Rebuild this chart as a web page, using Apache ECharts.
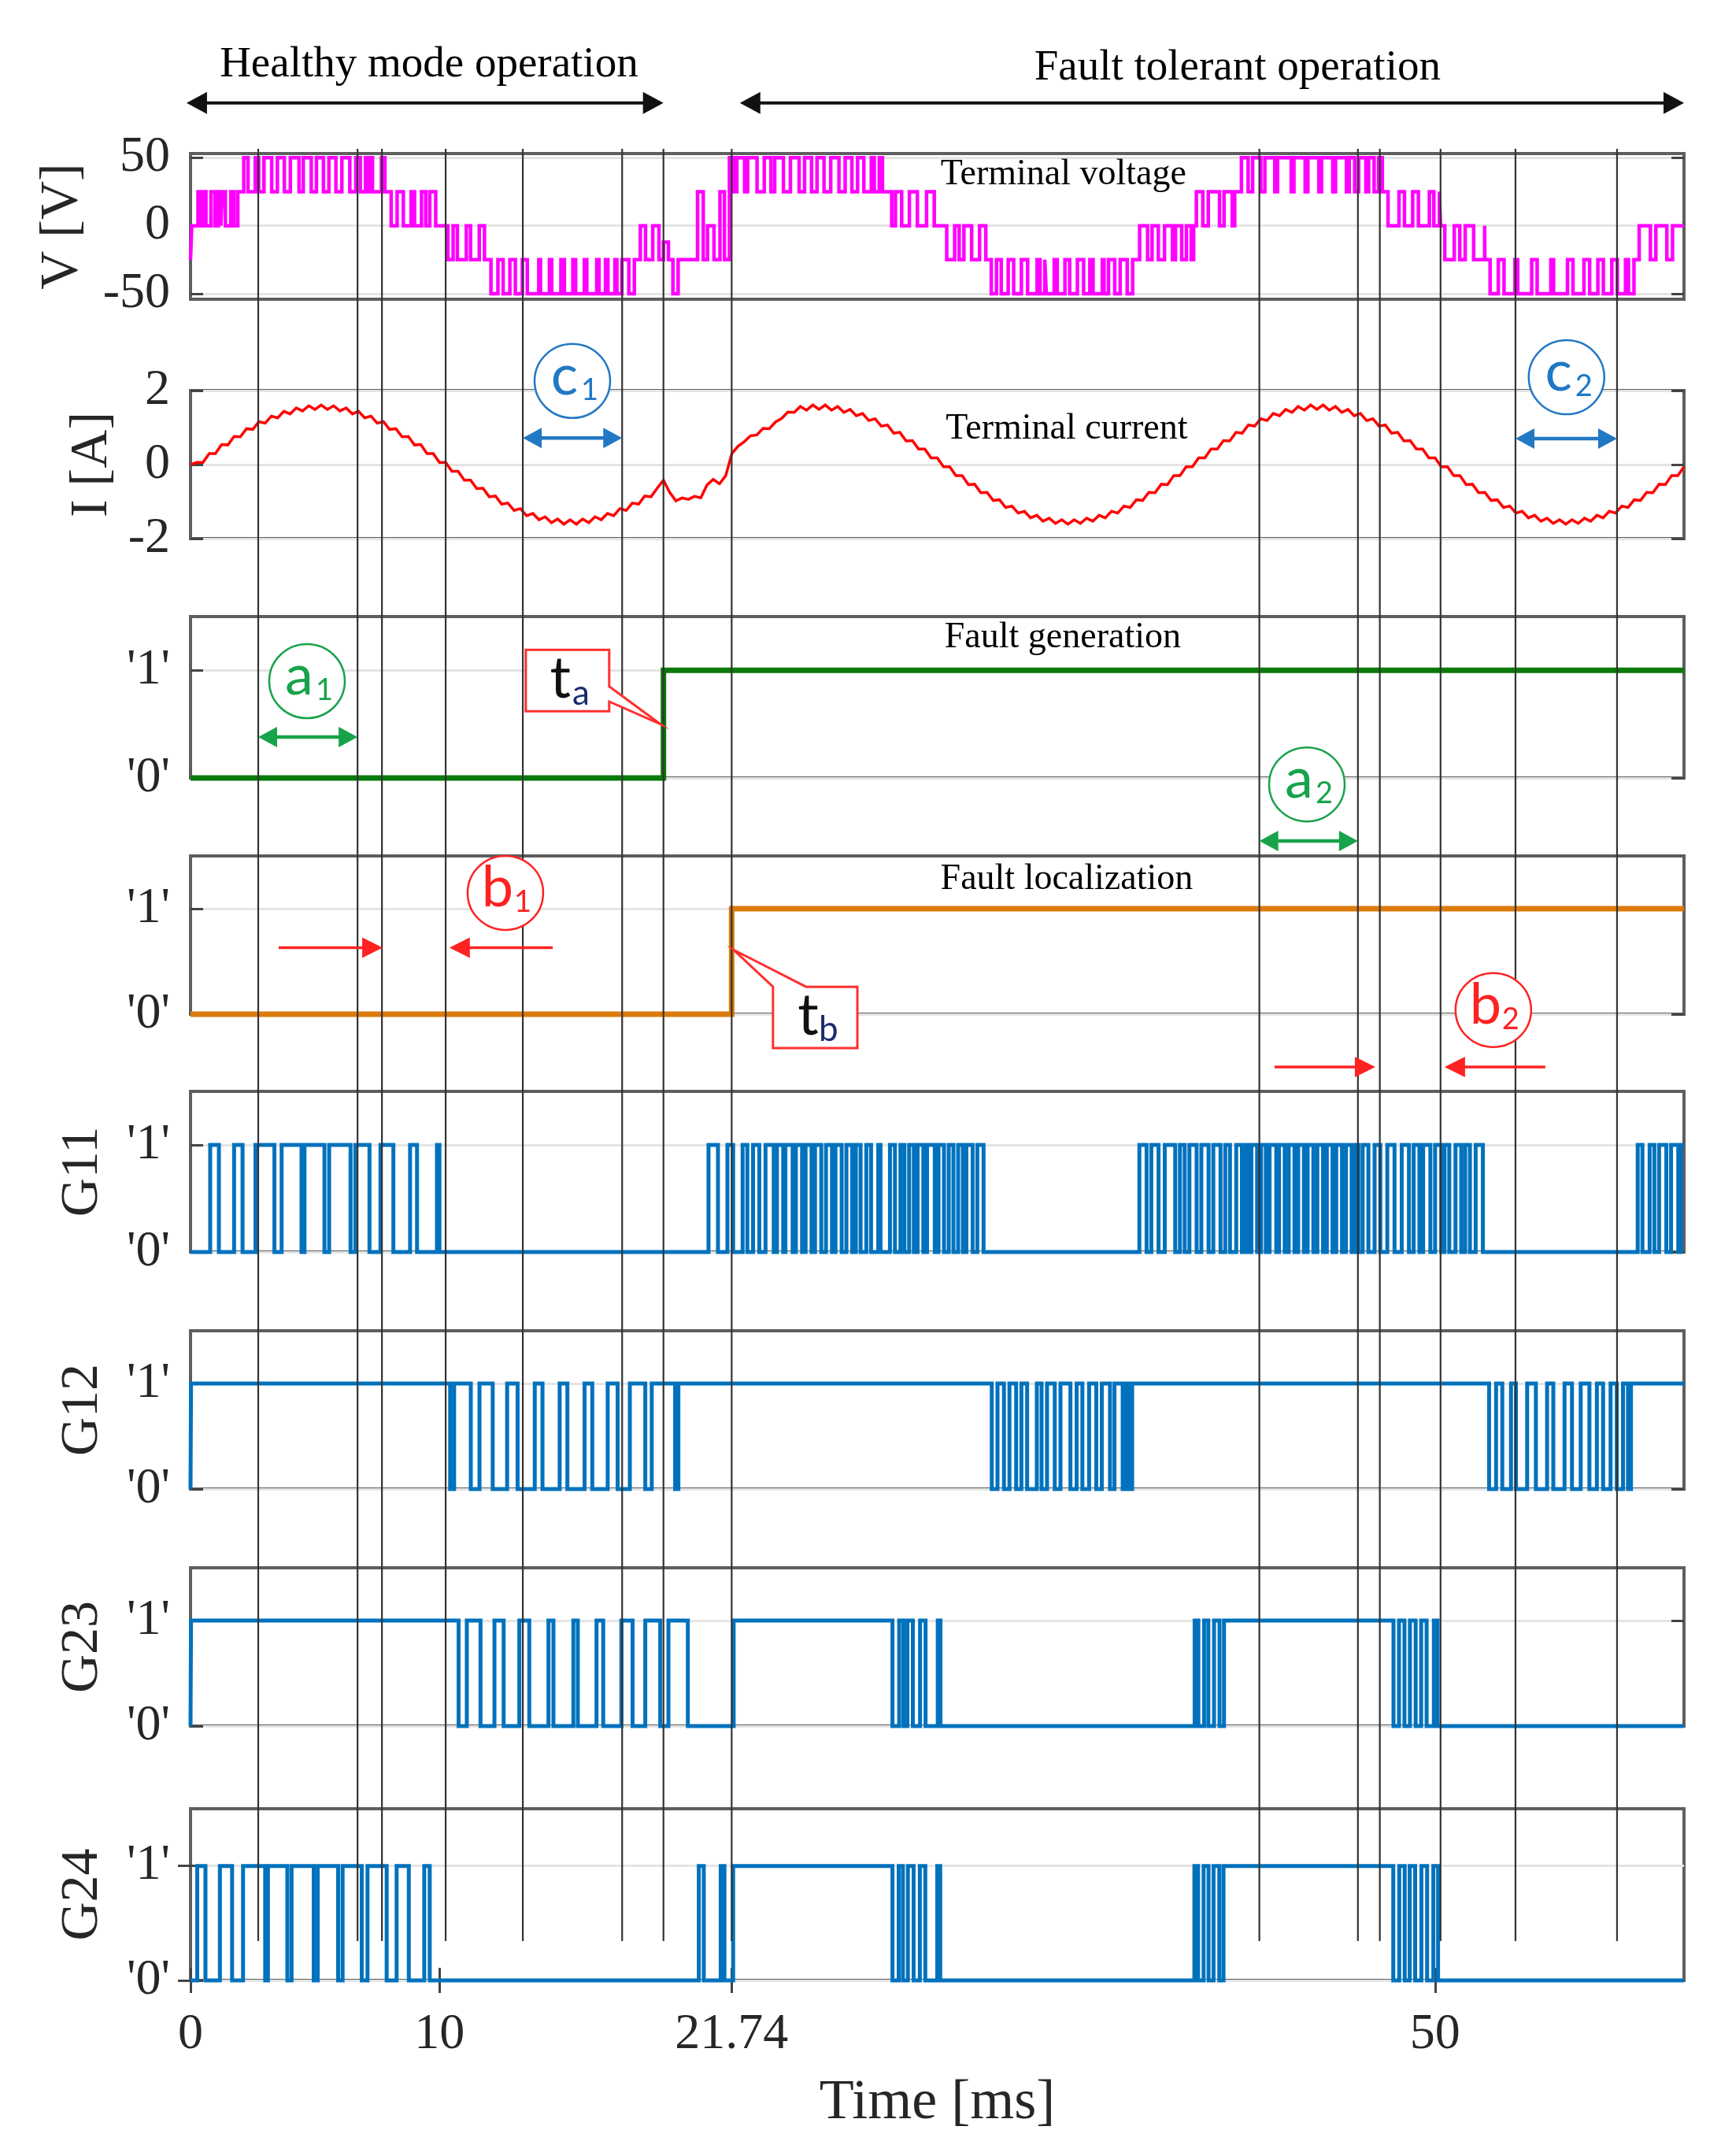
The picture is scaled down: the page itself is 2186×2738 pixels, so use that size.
<!DOCTYPE html>
<html>
<head>
<meta charset="utf-8">
<script src="https://cdn.jsdelivr.net/npm/echarts@6/dist/echarts.min.js"></script>
<style>
  html, body { margin: 0; padding: 0; background: #fff; }
  #chart { width: 2186px; height: 2738px; }
</style>
</head>
<body>
<div id="chart"></div>
<script>
// ---- data (time in ms) ----
var timeTicks = [0, 10, 21.74, 50];
var guideTimes = [2.72, 6.71, 7.69, 10.25, 13.35, 17.34, 19.0, 21.74, 42.94, 46.9, 47.78, 50.22, 53.23, 57.31];
var voltageTicks = [-50, 0, 50];
var currentTicks = [-2, 0, 2];
var logicTicks = [0, 1];

// terminal voltage: base level changes [t, V] and PWM pulses [start, end, V]
var voltageBase = [[0, -25], [0.05, 0], [1.9, 25], [10.15, 0], [10.34, -25], [21.83, 25], [30.07, 0], [31.95, -25],
    [40.3, 0], [41.95, 25], [50.22, 0], [52.0, -25]];
var voltagePulses = [
    [0.30, 0.42, 25], [0.52, 0.62, 25], [0.82, 0.98, 25], [1.12, 1.22, 25], [1.28, 1.40, 25], [1.62, 1.75, 25],
    [2.14, 2.31, 50], [2.60, 2.74, 50], [2.95, 3.26, 50], [3.49, 3.77, 50], [4.01, 4.36, 50], [4.53, 4.85, 50],
    [5.06, 5.34, 50], [5.56, 5.84, 50], [6.08, 6.40, 50], [6.64, 6.82, 50], [7.03, 7.12, 50], [7.24, 7.31, 50], [7.67, 7.81, 50],
    [8.06, 8.30, 0], [8.55, 8.86, 0], [9.00, 9.28, 0], [9.45, 9.61, 0], [9.85, 10.15, 0],
    [10.55, 10.72, 0], [11.08, 11.25, 0], [11.60, 11.81, 0],
    [12.07, 12.35, -50], [12.56, 12.83, -50], [13.05, 13.33, -50], [13.53, 13.99, -50], [14.06, 14.42, -50],
    [14.51, 14.88, -50], [15.02, 15.36, -50], [15.47, 15.82, -50], [15.92, 16.32, -50], [16.41, 16.67, -50],
    [16.77, 17.05, -50], [17.13, 17.33, -50], [17.61, 17.83, -50],
    [18.07, 18.28, 0], [18.57, 18.82, 0],
    [19.00, 19.20, -12], [19.38, 19.59, -50], [20.37, 20.60, 25], [20.77, 21.03, 0], [21.27, 21.45, 25], [21.65, 21.83, 50],
    [21.95, 22.26, 50], [22.38, 22.76, 50], [23.05, 23.32, 50], [23.47, 23.82, 50], [24.10, 24.45, 50], [24.67, 24.95, 50],
    [25.17, 25.45, 50], [25.72, 26.05, 50], [26.30, 26.57, 50], [26.80, 27.05, 50], [27.35, 27.47, 50], [27.67, 27.80, 50],
    [28.17, 28.32, 0], [28.57, 28.88, 0], [29.20, 29.57, 0], [29.88, 30.07, 0],
    [30.38, 30.70, -25], [30.88, 31.07, -25], [31.38, 31.70, -25],
    [32.17, 32.38, -50], [32.57, 32.85, -50], [33.07, 33.38, -50], [33.63, 34.01, -50], [34.13, 34.32, -50], [34.38, 34.70, -50],
    [34.82, 35.13, -50], [35.32, 35.63, -50], [35.88, 36.13, -50], [36.26, 36.63, -50], [36.70, 36.88, -50], [37.13, 37.35, -50],
    [37.63, 37.85, -50],
    [38.13, 38.45, 0], [38.63, 38.88, 0], [39.13, 39.45, 0], [39.57, 39.82, 0], [40.01, 40.20, 0],
    [40.41, 40.67, 25], [40.89, 41.34, 25], [41.52, 41.85, 25],
    [42.22, 42.49, 50], [42.67, 43.00, 50], [43.16, 43.56, 50], [43.67, 44.22, 50], [44.33, 44.78, 50], [44.89, 45.33, 50],
    [45.44, 45.89, 50], [46.00, 46.44, 50], [46.55, 46.77, 50], [46.93, 47.22, 50], [47.33, 47.55, 50], [47.73, 47.88, 50],
    [48.11, 48.55, 0], [48.77, 49.10, 0], [49.33, 49.77, 0], [49.95, 50.17, 0],
    [50.39, 50.77, -25], [50.99, 51.21, -25], [51.55, 51.99, -25],
    [52.21, 52.54, -50], [52.77, 53.21, -50], [53.32, 53.88, -50], [54.10, 54.65, -50], [54.76, 55.32, -50],
    [55.54, 55.98, -50], [56.21, 56.54, -50], [56.76, 57.10, -50], [57.32, 57.65, -50], [57.77, 57.99, -50],
    [58.20, 58.65, 0], [58.87, 59.31, 0], [59.54, 60.00, 0]
];

// terminal current, one sample every 0.25 ms
var currentStepMs = 0.25;
var currentValues = [
    0.00, 0.06, 0.06, 0.30, 0.30, 0.54, 0.53, 0.76, 0.75, 0.97, 0.95, 1.16, 1.12, 1.31, 1.26, 1.44,
    1.37, 1.53, 1.45, 1.59, 1.49, 1.61, 1.49, 1.59, 1.45, 1.53, 1.37, 1.44, 1.26, 1.31, 1.12, 1.16,
    0.95, 0.97, 0.75, 0.76, 0.53, 0.54, 0.30, 0.30, 0.06, 0.06, -0.18, -0.18, -0.42, -0.42, -0.65, -0.64,
    -0.87, -0.85, -1.07, -1.04, -1.24, -1.19, -1.38, -1.32, -1.49, -1.41, -1.57, -1.47, -1.61, -1.49, -1.61, -1.47,
    -1.57, -1.41, -1.49, -1.32, -1.38, -1.19, -1.24, -1.04, -1.07, -0.85, -0.87, -0.64, -0.42, -0.75, -0.98, -0.90,
    -0.94, -0.86, -0.90, -0.55, -0.40, -0.52, -0.30, 0.30, 0.50, 0.62, 0.78, 0.80, 0.98, 0.97, 1.15, 1.25,
    1.42, 1.41, 1.57, 1.47, 1.61, 1.49, 1.61, 1.47, 1.57, 1.41, 1.49, 1.32, 1.38, 1.19, 1.24, 1.04,
    1.07, 0.85, 0.87, 0.64, 0.65, 0.42, 0.42, 0.18, 0.18, -0.06, -0.06, -0.30, -0.30, -0.54, -0.53, -0.76,
    -0.75, -0.97, -0.95, -1.16, -1.12, -1.31, -1.26, -1.44, -1.37, -1.53, -1.45, -1.59, -1.49, -1.61, -1.49, -1.59,
    -1.45, -1.53, -1.37, -1.44, -1.26, -1.31, -1.12, -1.16, -0.95, -0.97, -0.75, -0.76, -0.53, -0.54, -0.30, -0.30,
    -0.06, -0.06, 0.18, 0.18, 0.42, 0.42, 0.65, 0.64, 0.87, 0.85, 1.07, 1.04, 1.24, 1.19, 1.38, 1.32,
    1.49, 1.41, 1.57, 1.47, 1.61, 1.49, 1.61, 1.47, 1.57, 1.41, 1.49, 1.32, 1.38, 1.19, 1.24, 1.04,
    1.07, 0.85, 0.87, 0.64, 0.65, 0.42, 0.42, 0.18, 0.18, -0.06, -0.06, -0.30, -0.30, -0.54, -0.53, -0.76,
    -0.75, -0.97, -0.95, -1.16, -1.12, -1.31, -1.26, -1.44, -1.37, -1.53, -1.45, -1.59, -1.49, -1.61, -1.49, -1.59,
    -1.45, -1.53, -1.37, -1.44, -1.26, -1.31, -1.12, -1.16, -0.95, -0.97, -0.75, -0.76, -0.53, -0.54, -0.30, -0.30,
    -0.06
];

var faultGeneration = [[0, 0], [19.0, 1]];
var faultLocalization = [[0, 0], [21.74, 1]];

// gate signals: intervals where the gate is '1' (G12: where it is '0')
var g11High = [
    [0.79, 1.14], [1.75, 2.09], [2.61, 3.37], [3.66, 4.46], [4.58, 5.38], [5.57, 6.43], [6.62, 7.19], [7.63, 8.15],
    [8.82, 9.10], [9.90, 10.0],
    [20.81, 21.19], [21.57, 21.80], [22.18, 22.37], [22.60, 22.85], [23.10, 23.43], [23.56, 23.81], [23.90, 24.19],
    [24.32, 24.57], [24.71, 24.95], [25.09, 25.34], [25.53, 25.77], [25.91, 26.16], [26.35, 26.58], [26.73, 26.92],
    [27.15, 27.34], [27.63, 27.72], [28.10, 28.30], [28.52, 28.68], [28.87, 29.06], [29.21, 29.44], [29.59, 29.90],
    [30.05, 30.27], [30.46, 30.65], [30.84, 31.03], [31.17, 31.42], [31.61, 31.86],
    [38.12, 38.41], [38.60, 38.89], [39.14, 39.56], [39.75, 39.94], [40.13, 40.42], [40.61, 40.90], [41.09, 41.38],
    [41.57, 41.76], [42.01, 42.24], [42.40, 42.55], [42.62, 42.85], [43.01, 43.20], [43.35, 43.62], [43.73, 43.96],
    [44.12, 44.35], [44.50, 44.73], [44.88, 45.11], [45.27, 45.50], [45.65, 45.88], [46.03, 46.26], [46.42, 46.65],
    [46.80, 46.92], [47.09, 47.32], [47.57, 47.80], [48.08, 48.37], [48.66, 48.95], [49.14, 49.37], [49.52, 49.81],
    [50.00, 50.25], [50.38, 50.57], [50.82, 51.05], [51.21, 51.40], [51.63, 51.92],
    [58.14, 58.33], [58.62, 58.81], [59.00, 59.29], [59.48, 59.77], [59.87, 60.0]
];
var g12Low = [
    [0, 0.02], [10.43, 10.59], [11.26, 11.61], [12.14, 12.72], [13.14, 13.83], [14.14, 14.83], [15.14, 15.83],
    [16.14, 16.76], [17.16, 17.65], [18.27, 18.53], [19.47, 19.60],
    [32.19, 32.42], [32.68, 32.90], [33.17, 33.38], [33.61, 34.00], [34.19, 34.41], [34.72, 34.95], [35.35, 35.60],
    [35.83, 36.10], [36.39, 36.61], [36.94, 37.12], [37.45, 37.55], [37.70, 37.83],
    [52.17, 52.45], [52.70, 53.05], [53.25, 53.70], [54.05, 54.50], [54.75, 55.20], [55.50, 55.85], [56.20, 56.50],
    [56.75, 57.05], [57.30, 57.55], [57.75, 57.87]
];
var g23High = [
    [0.02, 10.77], [11.10, 11.65], [12.21, 12.58], [13.21, 13.61], [14.38, 14.58], [15.38, 15.56], [16.31, 16.58],
    [17.31, 17.76], [18.27, 18.87], [19.20, 19.98],
    [21.82, 28.20], [28.47, 28.64], [28.80, 29.02], [29.31, 29.53], [30.02, 30.13],
    [40.34, 40.49], [40.72, 40.89], [41.12, 41.34], [41.52, 48.33], [48.55, 48.77], [48.99, 49.22], [49.44, 49.66],
    [49.95, 50.10]
];
var g24High = [
    [0.27, 0.60], [1.18, 1.67], [2.11, 3.00], [3.11, 3.89], [4.06, 4.95], [5.11, 5.93], [6.11, 6.88], [7.11, 7.88],
    [8.28, 8.77], [9.39, 9.61],
    [20.42, 20.62], [21.30, 21.45], [21.80, 28.20], [28.45, 28.62], [28.82, 29.05], [29.30, 29.52], [30.00, 30.12],
    [40.33, 40.48], [40.70, 40.90], [41.10, 41.33], [41.50, 48.32], [48.56, 48.78], [48.98, 49.20], [49.45, 49.68],
    [49.93, 50.12]
];

// ---- layout ----
var T_END = 60;
var PLOT_LEFT = 242;
var PLOT_WIDTH = 1897;
var SERIF = 'Liberation Serif';
var SANS = 'Lato';
var TEXT = '#262626';

var panels = [
    { top: 195, height: 185, min: -54, max: 53, ticks: voltageTicks, name: 'V [V]', gap: 129 },
    { top: 496, height: 188, min: -2, max: 2, ticks: currentTicks, name: 'I [A]', gap: 91 },
    { top: 783, height: 205, min: 0, max: 1.5, ticks: logicTicks, logic: true },
    { top: 1087, height: 201, min: 0, max: 1.5, ticks: logicTicks, logic: true },
    { top: 1386, height: 204, min: 0, max: 1.5, ticks: logicTicks, logic: true, name: 'G11', gap: 103 },
    { top: 1690, height: 201, min: 0, max: 1.5, ticks: logicTicks, logic: true, name: 'G12', gap: 103 },
    { top: 1991, height: 201, min: 0, max: 1.5, ticks: logicTicks, logic: true, name: 'G23', gap: 103 },
    { top: 2297, height: 218, min: 0, max: 1.5, ticks: logicTicks, logic: true, name: 'G24', gap: 103 }
];

/**
 * Level of a switched signal at time t.
 */
function levelAt(t, base, pulses) {
    var v = base[0][1];
    for (var i = 0; i < base.length; i++) if (base[i][0] <= t) v = base[i][1];
    for (var j = 0; j < pulses.length; j++) if (t >= pulses[j][0] && t < pulses[j][1]) v = pulses[j][2];
    return v;
}

/**
 * Turn base levels + pulses into a step polyline.
 */
function buildSteps(base, pulses) {
    var cuts = {};
    cuts[0] = true; cuts[T_END] = true;
    base.forEach(function (b) { cuts[b[0]] = true; });
    pulses.forEach(function (p) { cuts[p[0]] = true; cuts[Math.min(p[1], T_END)] = true; });
    var ts = Object.keys(cuts).map(Number).filter(function (t) { return t >= 0 && t <= T_END; })
        .sort(function (a, b) { return a - b; });
    var pts = [];
    for (var i = 0; i < ts.length - 1; i++) {
        var v = levelAt((ts[i] + ts[i + 1]) / 2, base, pulses);
        pts.push([ts[i], v], [ts[i + 1], v]);
    }
    return pts;
}

function withLevel(list, level) {
    return list.map(function (p) { return [p[0], p[1], level]; });
}

var voltageData = buildSteps(voltageBase, voltagePulses);
var currentData = currentValues.map(function (v, i) { return [i * currentStepMs, v]; });
var faultGenData = buildSteps(faultGeneration, []);
var faultLocData = buildSteps(faultLocalization, []);
var g11Data = buildSteps([[0, 0]], withLevel(g11High, 1));
var g12Data = buildSteps([[0, 1]], withLevel(g12Low, 0));
var g23Data = buildSteps([[0, 0]], withLevel(g23High, 1));
var g24Data = buildSteps([[0, 0]], withLevel(g24High, 1));

var grids = panels.map(function (p) {
    return { left: PLOT_LEFT, width: PLOT_WIDTH, top: p.top, height: p.height, show: true,
        borderColor: '#5e5e5e', borderWidth: 4, backgroundColor: 'transparent' };
});
grids.push({ left: PLOT_LEFT, width: PLOT_WIDTH, top: 189, height: 2276, show: false });

var xAxes = panels.map(function (p, i) {
    var last = i === panels.length - 1;
    return {
        type: 'value', gridIndex: i, min: 0, max: T_END, position: 'bottom',
        axisLine: { show: false },
        axisTick: { show: last, inside: true, length: 16, customValues: timeTicks, lineStyle: { color: '#444', width: 3 } },
        axisLabel: { show: last, customValues: timeTicks, margin: 37, fontSize: 64, fontFamily: SERIF, color: TEXT,
            formatter: function (v) { return String(v); } },
        splitLine: { show: false },
        name: last ? 'Time [ms]' : '', nameLocation: 'middle', nameGap: 120,
        nameTextStyle: { fontSize: 72, fontFamily: SERIF, color: TEXT }
    };
});
xAxes.push({ type: 'value', gridIndex: 8, min: 0, max: T_END, show: false });
xAxes.push({
    type: 'value', gridIndex: 7, min: 0, max: T_END, position: 'top',
    axisLine: { show: false }, axisLabel: { show: false }, splitLine: { show: false },
    axisTick: { show: true, inside: true, length: 16, customValues: timeTicks, lineStyle: { color: '#444', width: 3 } }
});

var yAxes = [];
panels.forEach(function (p, i) {
    var fmt = p.logic ? function (v) { return "'" + v + "'"; } : function (v) { return String(v); };
    yAxes.push({
        type: 'value', gridIndex: i, min: p.min, max: p.max, position: 'left',
        axisLine: { show: false },
        axisTick: { show: true, inside: true, length: 16, customValues: p.ticks, lineStyle: { color: '#444', width: 3 } },
        axisLabel: { customValues: p.ticks, margin: 26, fontSize: 64, fontFamily: SERIF, color: TEXT, formatter: fmt },
        splitLine: { show: true, lineStyle: { color: '#e4e4e4', width: 3 } },
        name: p.name || '', nameLocation: 'middle', nameRotate: 90, nameGap: p.gap || 0,
        nameTextStyle: { fontSize: 68, fontFamily: SERIF, color: TEXT }
    });
    yAxes.push({
        type: 'value', gridIndex: i, min: p.min, max: p.max, position: 'right',
        axisLine: { show: false }, axisLabel: { show: false }, splitLine: { show: false },
        axisTick: { show: true, inside: true, length: 16, customValues: p.ticks, lineStyle: { color: '#444', width: 3 } }
    });
});
yAxes.push({ type: 'value', gridIndex: 8, min: 0, max: 1, show: false });

function signal(panel, data, color, width) {
    return {
        type: 'line', xAxisIndex: panel, yAxisIndex: panel * 2, data: data,
        showSymbol: false, symbol: 'none', clip: false, silent: true, z: 3,
        lineStyle: { color: color, width: width, join: 'miter' }
    };
}

var GATE_BLUE = '#0072BD';
var series = [
    signal(0, voltageData, '#FF00FF', 4.5),
    signal(1, currentData, '#FF0000', 3.5),
    signal(2, faultGenData, '#0B7A0B', 7),
    signal(3, faultLocData, '#DB7B0B', 7),
    signal(4, g11Data, GATE_BLUE, 5),
    signal(5, g12Data, GATE_BLUE, 5),
    signal(6, g23Data, GATE_BLUE, 5),
    signal(7, g24Data, GATE_BLUE, 5),
    {
        type: 'custom', xAxisIndex: 8, yAxisIndex: 16, silent: true, z: 10, clip: false,
        data: guideTimes.map(function (t) { return [t, 0]; }),
        encode: { x: 0, y: 1 },
        renderItem: function (params, api) {
            var p0 = api.coord([api.value(0), 1]);
            var p1 = api.coord([api.value(0), 0]);
            return { type: 'line', shape: { x1: p0[0], y1: p0[1], x2: p1[0], y2: p1[1] },
                style: { stroke: '#333333', lineWidth: 2.2 } };
        }
    }
];

var option = {
    animation: false,
    backgroundColor: '#ffffff',
    grid: grids,
    xAxis: xAxes,
    yAxis: yAxes,
    series: series
};

var chart = echarts.init(document.getElementById('chart'));
chart.setOption(option);

// ---- annotations, placed through each panel's scales ----
function px(g, x, y) {
    return chart.convertToPixel({ xAxisIndex: g, yAxisIndex: g * 2 }, [x, y]);
}

var RED = '#FF2222', GREEN = '#18A34A', BLUE = '#2178C4';
var arrowSpecs = [
    { g: 0, from: [-0.16, 90.1], to: [19.0, 90.1], color: '#111', width: 4, head: [26, 14], both: true },
    { g: 0, from: [22.07, 90.1], to: [60, 90.1], color: '#111', width: 4, head: [26, 14], both: true },
    { g: 1, from: [13.35, 0.72], to: [17.34, 0.72], color: BLUE, width: 4.5, head: [24, 13], both: true },
    { g: 1, from: [53.23, 0.70], to: [57.31, 0.70], color: BLUE, width: 4.5, head: [24, 13], both: true },
    { g: 2, from: [2.72, 0.38], to: [6.71, 0.38], color: GREEN, width: 4.5, head: [24, 13], both: true },
    { g: 2, from: [42.94, -0.585], to: [46.9, -0.585], color: GREEN, width: 4.5, head: [24, 13], both: true },
    { g: 3, from: [3.54, 0.63], to: [7.72, 0.63], color: RED, width: 3.5, head: [26, 13], both: false },
    { g: 3, from: [14.55, 0.63], to: [10.40, 0.63], color: RED, width: 3.5, head: [26, 13], both: false },
    { g: 3, from: [43.55, -0.5], to: [47.6, -0.5], color: RED, width: 3.5, head: [26, 13], both: false },
    { g: 3, from: [54.43, -0.5], to: [50.38, -0.5], color: RED, width: 3.5, head: [26, 13], both: false }
];
var circleSpecs = [
    { g: 1, at: [15.34, 2.26], color: BLUE, main: 'c', sub: '1' },
    { g: 1, at: [55.28, 2.36], color: BLUE, main: 'c', sub: '2' },
    { g: 2, at: [4.68, 0.90], color: GREEN, main: 'a', sub: '1' },
    { g: 2, at: [44.85, -0.06], color: GREEN, main: 'a', sub: '2' },
    { g: 3, at: [12.65, 1.15], color: RED, main: 'b', sub: '1' },
    { g: 3, at: [52.34, 0.04], color: RED, main: 'b', sub: '2' }
];
var calloutSpecs = [
    { g: 2, box: [13.47, 16.82, 0.62, 1.19], side: 'right', w: [0.85, 0.71], tip: [18.88, 0.50], sub: 'a' },
    { g: 3, box: [23.40, 26.79, -0.32, 0.26], side: 'top', w: [23.40, 24.73], tip: [21.82, 0.61], sub: 'b' }
];
var textSpecs = [
    { g: 0, at: [9.58, 118], text: 'Healthy mode operation', size: 55 },
    { g: 0, at: [42.06, 116], text: 'Fault tolerant operation', size: 55 },
    { g: 0, at: [35.07, 37.4], text: 'Terminal voltage', size: 46 },
    { g: 1, at: [35.2, 0.96], text: 'Terminal current', size: 46 },
    { g: 2, at: [35.04, 1.30], text: 'Fault generation', size: 46 },
    { g: 3, at: [35.2, 1.28], text: 'Fault localization', size: 46 }
];

var els = [];

arrowSpecs.forEach(function (s) {
    var a = px(s.g, s.from[0], s.from[1]);
    var b = px(s.g, s.to[0], s.to[1]);
    var dx = b[0] - a[0], dy = b[1] - a[1];
    var len = Math.sqrt(dx * dx + dy * dy);
    var ux = dx / len, uy = dy / len;
    var hl = s.head[0], hw = s.head[1];
    var start = s.both ? [a[0] + ux * hl * 0.7, a[1] + uy * hl * 0.7] : a;
    var end = [b[0] - ux * hl * 0.7, b[1] - uy * hl * 0.7];
    els.push({ type: 'line', z: 100, silent: true,
        shape: { x1: start[0], y1: start[1], x2: end[0], y2: end[1] },
        style: { stroke: s.color, lineWidth: s.width } });
    function head(tip, vx, vy) {
        return { type: 'polygon', z: 101, silent: true,
            shape: { points: [tip,
                [tip[0] - vx * hl - vy * hw, tip[1] - vy * hl + vx * hw],
                [tip[0] - vx * hl + vy * hw, tip[1] - vy * hl - vx * hw]] },
            style: { fill: s.color } };
    }
    els.push(head(b, ux, uy));
    if (s.both) els.push(head(a, -ux, -uy));
});

circleSpecs.forEach(function (s) {
    var c = px(s.g, s.at[0], s.at[1]);
    els.push({ type: 'ellipse', z: 100, silent: true, shape: { cx: c[0], cy: c[1], rx: 48, ry: 47 },
        style: { fill: '#fff', stroke: s.color, lineWidth: 2.5 } });
    els.push({ type: 'text', z: 102, silent: true, x: c[0] - 10, y: c[1] - 6,
        style: { text: s.main, fontSize: 72, fontFamily: SANS, fill: s.color, align: 'center', verticalAlign: 'middle' } });
    els.push({ type: 'text', z: 102, silent: true, x: c[0] + 22, y: c[1] + 12,
        style: { text: s.sub, fontSize: 38, fontFamily: SANS, fill: s.color, align: 'center', verticalAlign: 'middle' } });
});

calloutSpecs.forEach(function (s) {
    var tl = px(s.g, s.box[0], s.box[3]);
    var br = px(s.g, s.box[1], s.box[2]);
    var tip = px(s.g, s.tip[0], s.tip[1]);
    var pts;
    if (s.side === 'right') {
        var r1 = px(s.g, s.box[1], s.w[0]);
        var r2 = px(s.g, s.box[1], s.w[1]);
        pts = [tl, [br[0], tl[1]], r1, tip, r2, br, [tl[0], br[1]]];
    } else {
        var w2 = px(s.g, s.w[1], s.box[3]);
        pts = [tl, tip, w2, [br[0], tl[1]], br, [tl[0], br[1]]];
    }
    els.push({ type: 'polygon', z: 100, silent: true, shape: { points: pts },
        style: { fill: '#fff', stroke: '#FF3030', lineWidth: 3, lineJoin: 'miter' } });
    var cx = (tl[0] + br[0]) / 2, cy = (tl[1] + br[1]) / 2;
    els.push({ type: 'text', z: 102, silent: true, x: cx - 9, y: cy - 2,
        style: { text: 't', fontSize: 74, fontFamily: SANS, fill: '#111', align: 'center', verticalAlign: 'middle' } });
    els.push({ type: 'text', z: 102, silent: true, x: cx + 17, y: cy + 16,
        style: { text: s.sub, fontSize: 44, fontFamily: SANS, fill: '#1b2b6b', align: 'center', verticalAlign: 'middle' } });
});

textSpecs.forEach(function (s) {
    var p = px(s.g, s.at[0], s.at[1]);
    els.push({ type: 'text', z: 102, silent: true, x: p[0], y: p[1],
        style: { text: s.text, fontSize: s.size, fontFamily: SERIF, fill: '#000', align: 'center', verticalAlign: 'middle' } });
});

chart.setOption({ graphic: { elements: els } });
</script>
</body>
</html>
